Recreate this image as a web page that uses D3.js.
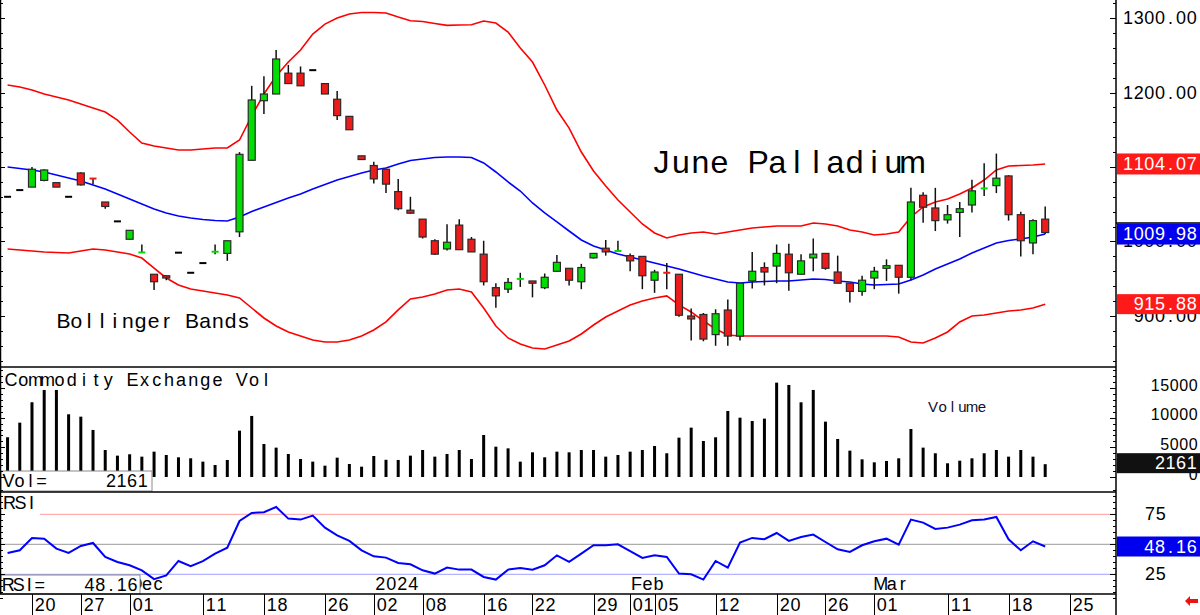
<!DOCTYPE html>
<html>
<head>
<meta charset="utf-8">
<script src="https://cdn.jsdelivr.net/npm/d3@7"></script>
<style>
  body { margin: 0; background: #fff; }
  svg { display: block; }
</style>
</head>
<body>
<div id="container"></div>
<script>
// ---- data ----
const dates = [
  "2023-11-16","2023-11-17","2023-11-20","2023-11-21","2023-11-22","2023-11-24","2023-11-27","2023-11-28","2023-11-29","2023-11-30",
  "2023-12-01","2023-12-04","2023-12-05","2023-12-06","2023-12-07","2023-12-08","2023-12-11","2023-12-12","2023-12-13","2023-12-14",
  "2023-12-15","2023-12-18","2023-12-19","2023-12-20","2023-12-21","2023-12-22","2023-12-26","2023-12-27","2023-12-28","2023-12-29",
  "2024-01-02","2024-01-03","2024-01-04","2024-01-05","2024-01-08","2024-01-09","2024-01-10","2024-01-11","2024-01-12","2024-01-16",
  "2024-01-17","2024-01-18","2024-01-19","2024-01-22","2024-01-23","2024-01-24","2024-01-25","2024-01-26","2024-01-29","2024-01-30",
  "2024-01-31","2024-02-01","2024-02-02","2024-02-05","2024-02-06","2024-02-07","2024-02-08","2024-02-09","2024-02-12","2024-02-13",
  "2024-02-14","2024-02-15","2024-02-16","2024-02-20","2024-02-21","2024-02-22","2024-02-23","2024-02-26","2024-02-27","2024-02-28",
  "2024-02-29","2024-03-01","2024-03-04","2024-03-05","2024-03-06","2024-03-07","2024-03-08","2024-03-11","2024-03-12","2024-03-13",
  "2024-03-14","2024-03-15","2024-03-18","2024-03-19","2024-03-20","2024-03-21",
  // empty sessions on the right of the axis
  "2024-03-22","2024-03-25","2024-03-26","2024-03-27","2024-03-28"
];

const open = [1060,1069,1073,1082,1079,1060,1092,1085,1053,1027,
  1003,985,956,954,985,958,971,986,984,1013,
  1109,1189,1198,1226,1226,1230,1212,1191,1168,1115,
  1102,1097,1067,1042,1030,1001,990,1022,1003,983,
  938,936,949.5,947,938,960,964,946,978,991,
  987,981,980,948,958.5,956,900,902,875,908,
  873,947,965,967,983,956,978,984,959,944,
  933,951,964,968,952,1062,1045,1029,1039,1049,
  1071,1075,1088,1036,998,1030];
const high = [1060,1069,1100,1097,1079,1060,1093,1085,1053,1027,
  1015,996,956,955,985,958,971,996,1001,1120,
  1209,1222,1257,1237,1235,1230,1212,1202,1168,1115,
  1107,1097,1084,1060,1030,1003,1023,1030,1006,1001,
  944,951,958,947,957,982,964,970,984,1002,
  1001,984,980,962,971,956,910,904,909,922,
  944,986,972,996,997,983,1004,984,981,944,
  954,966,976,968,1072,1066,1072,1049,1053,1083,
  1105,1118,1089,1040,1030,1047];
const low = [1060,1069,1073,1081,1073,1060,1075,1077,1044,1027,
  1003,985,935,948,985,958,971,983,974,1006,
  1109,1171,1198,1212,1209,1230,1198,1163,1150,1110,
  1078,1065,1042,1037,1004,982,988,989,986,941,
  911,931,939,925,936,959,941,936,977,981,
  987,960,936,931,936,899,867,866,860,860,
  867,937,941,944,934,956,960,962,944,918,
  927,936,947,930,948,1025,1014,1024,1006,1039,
  1061,1065,1028,980,983,1010];
const close = [1060,1069,1097,1096,1073,1060,1076,1084,1047,1027,
  1015,985.5,946,951,985,958,971,986.5,1001,1117,
  1190,1198,1245,1212,1209,1230,1198,1169,1150,1110,
  1084,1077,1044,1038,1006,983,999,989,986,946,
  927,945,950,944,952,972,948,965,984,986,
  987.5,974,954,959,957.5,901,896,869,903,873,
  944,960,959,984,958,974,983,964,944,933,
  948,960,967.5,952,1053,1046,1028,1036,1044,1068,
  1071.5,1085,1036,1001,1028,1012];

const upperBand = [1210.1,1207.4,1203.4,1198,1194,1190,1184.6,1179.2,1173.8,1163,
  1147,1132.2,1128.2,1125.5,1122.8,1122.8,1124.2,1125.5,1125.5,1136.2,
  1168.5,1198,1222.1,1240.9,1257,1278.5,1291.9,1300,1305.4,1307.4,
  1307.4,1306.7,1301.3,1296.4,1295.3,1292.6,1290.2,1290.6,1291,1296,
  1293.3,1281.2,1259.7,1240.9,1210.1,1176.5,1152.3,1120.1,1094.6,1074.5,
  1055.7,1039.6,1023.5,1011.4,1004.7,1008.7,1011.4,1012.7,1010,1012.7,
  1015.4,1018.1,1019.5,1020.8,1020.8,1020.8,1024.8,1023.5,1020.8,1015.4,
  1012.7,1008.7,1010,1012.7,1032.9,1046.3,1053,1057,1063.8,1071.8,
  1082.5,1096,1101.3,1102,1102.7,1104.07];
const midBand = [1100,1098,1096,1093.3,1089.3,1085.2,1081.2,1075.8,1070.5,1063.8,
  1057,1050.3,1043.6,1038.3,1034.2,1031.5,1029.5,1028.2,1027.5,1032.9,
  1040.3,1046.3,1052.3,1058.4,1063.8,1070.5,1076.5,1082.5,1087.2,1091.9,
  1096,1098.7,1104,1108.7,1110.7,1112.8,1113.4,1113.4,1112.8,1105.4,
  1093.3,1079.9,1067.8,1051.7,1038.3,1026.2,1014.1,1002,994,988.6,
  983.2,979.2,975.2,971.1,967.1,963.1,958.4,953.7,949.7,945.6,
  944.3,945.6,946.3,947,947,948.3,949.7,949,947,945.6,
  942.9,941.6,942.3,942.9,948.3,955,963.1,969.8,976.5,984.6,
  991.3,998,1001.3,1003.4,1006,1009.98];
const lowerBand = [989.9,988.6,987.2,985.9,985.2,984.6,987.2,989.9,988.6,985.9,
  983.2,977.8,964.4,951,941.6,936.2,933.6,930.9,928.2,924.2,
  910.7,897.3,886.6,878.5,873.2,867.8,865.1,865.1,867.8,873.2,
  881.2,892,908.1,922.9,925.5,929.6,934.9,936.2,932.2,910.7,
  886.6,870.5,862.4,857,855.7,861.1,866.4,875.8,887.9,898.6,
  906.7,914.8,920.2,924.2,926.9,914.8,905.4,893.3,882.5,874.5,
  873.2,873.2,873.2,873.2,873.2,873.2,873.2,873.2,873.2,873.2,
  873.2,873.2,873.2,871.8,865.1,863.8,870.5,878.5,892,900,
  901.3,904,906.7,908.1,910.7,915.88];

const volume = [6700,9160,12600,14670,14670,10570,10170,7930,4550,3600,
  3830,3430,4270,3710,3320,3150,2590,2020,2870,7810,
  10290,5560,4950,3880,3030,2590,1910,3260,2190,1740,
  3540,2900,2870,3600,4550,3430,3880,4550,3030,7080,
  5110,4830,2590,4160,3320,4270,4160,4550,4550,3430,
  3710,4270,4550,5230,4000,6630,8320,6070,6690,11130,
  10000,9440,9840,15900,15510,12590,14670,9330,6410,4440,
  2980,2470,2700,3150,8090,4950,4000,2310,2750,3150,
  4000,4550,3430,4550,3430,2161];

const rsi = [42.8,45,55.3,54.7,46.4,42.8,48.6,51.1,39.4,35.3,
  32.5,28.3,21,24,36.1,31.7,36,42.2,47.2,69.4,
  76.1,76.7,81.1,71.4,70.6,73.9,63.9,57.5,52.8,45,
  40,38.9,34.4,33.3,28.3,25.6,30.6,28.9,28.9,22.8,
  20.6,28.9,30.3,28.9,32.5,40.8,35.3,42.2,49.2,49.2,
  50,44.4,38.6,40.8,39.4,25.6,25,20.6,36.1,30.6,
  51.4,55.3,54.2,59.4,52.8,56.1,58.1,51.9,45.8,43.6,
  49.2,52.5,54.7,49.7,70.6,68.1,62.8,63.9,66.4,70,
  70.6,72.8,54.2,45,52.5,48.16];

const tickDates = ["2023-11-20","2023-11-27","2023-12-01","2023-12-11","2023-12-18","2023-12-26",
  "2024-01-02","2024-01-08","2024-01-16","2024-01-22","2024-01-29","2024-02-01","2024-02-05",
  "2024-02-12","2024-02-20","2024-02-26","2024-03-01","2024-03-11","2024-03-18","2024-03-25"];
const monthDates = ["2023-12-01","2024-01-02","2024-02-01","2024-03-01"];
const monthLabels = ["Dec","2024","Feb","Mar"];

const priceTicks = [900, 1000, 1100, 1200, 1300];
const volTicks = [0, 5000, 10000, 15000];
const rsiTicks = [25, 75];

// ---- layout ----
const W = 1200, H = 615, R = 1116;
const pBot = 367, vBot = 492, rBot = 594;
const FONT = "'Liberation Sans', Arial, sans-serif";
const GREEN = "#00dd00", RED = "#ee1b1b";

const svg = d3.select("#container").append("svg")
  .attr("width", W).attr("height", H)
  .style("font-family", FONT);

const x = d3.scaleLinear().domain([-0.62, 90.8]).range([0, R]);
const yP = d3.scaleLinear().domain([831.5, 1324.2]).range([pBot, 0]);
const yV = d3.scaleLinear().domain([0, 15000]).range([477, 388]);
const yR = d3.scaleLinear().domain([25, 75]).range([574.3, 514.3]);

const defs = svg.append("defs");
[["clipP", 0, pBot], ["clipV", pBot, vBot], ["clipR", vBot, rBot]].forEach(([id, t, b]) => {
  defs.append("clipPath").attr("id", id).append("rect")
    .attr("x", 0).attr("y", t).attr("width", R).attr("height", b - t);
});

// monospaced-looking text: every glyph centred in its own cell
function mono(g, str, x0, yc, adv, size, fill) {
  const chars = [...str];
  return g.append("text")
    .attr("x", chars.map((c, i) => (x0 + adv * (i + 0.5)).toFixed(1)).join(" "))
    .attr("y", yc)
    .attr("text-anchor", "middle")
    .attr("dominant-baseline", "central")
    .attr("font-size", size)
    .attr("fill", fill || "#000")
    .text(str);
}
function monoRight(g, str, xr, yc, adv, size, fill) {
  return mono(g, str, xr - adv * [...str].length, yc, adv, size, fill);
}

// ---- price panel ----
const price = svg.append("g").attr("clip-path", "url(#clipP)");
const bandLine = d3.line().x((d, i) => x(i)).y(d => yP(d));

price.append("path").datum(upperBand).attr("d", bandLine)
  .attr("fill", "none").attr("stroke", "#ff0000").attr("stroke-width", 1.6);
price.append("path").datum(lowerBand).attr("d", bandLine)
  .attr("fill", "none").attr("stroke", "#ff0000").attr("stroke-width", 1.6);
price.append("path").datum(midBand).attr("d", bandLine)
  .attr("fill", "none").attr("stroke", "#0000ff").attr("stroke-width", 1.6);

const candles = open.map((o, i) => ({ i, o, h: high[i], l: low[i], c: close[i] }));

price.selectAll(".wick").data(candles.filter(d => d.h > d.l)).enter()
  .append("line")
  .attr("x1", d => x(d.i)).attr("x2", d => x(d.i))
  .attr("y1", d => yP(d.h)).attr("y2", d => yP(d.l))
  .attr("stroke", "#111").attr("stroke-width", 1.5);

const thin = d => Math.abs(yP(d.o) - yP(d.c)) < 2.2;
const colorOf = d => d.c > d.o ? GREEN : d.c < d.o ? RED : "#000";

price.selectAll(".dash").data(candles.filter(thin)).enter()
  .append("rect")
  .attr("x", d => x(d.i) - 3.5).attr("width", 7)
  .attr("y", d => yP((d.o + d.c) / 2) - 1).attr("height", 2)
  .attr("fill", colorOf);

price.selectAll(".body").data(candles.filter(d => !thin(d))).enter()
  .append("rect")
  .attr("x", d => x(d.i) - 3.5).attr("width", 7)
  .attr("y", d => yP(Math.max(d.o, d.c)))
  .attr("height", d => yP(Math.min(d.o, d.c)) - yP(Math.max(d.o, d.c)))
  .attr("fill", colorOf)
  .attr("stroke", "#2a2a2a").attr("stroke-width", 1.2);

mono(svg, "June Palladium", 652, 162, 19.3, 32);
mono(svg, "Bollinger Bands", 57, 320, 12.87, 21);

// ---- volume panel ----
const vol = svg.append("g").attr("clip-path", "url(#clipV)");
vol.selectAll("rect").data(volume).enter().append("rect")
  .attr("x", (d, i) => x(i) - 1.5).attr("width", 3)
  .attr("y", d => yV(d)).attr("height", d => yV(0) - yV(d))
  .attr("fill", "#000");

mono(svg, "Commodity Exchange Vol", 5, 380, 12.14, 18);
mono(svg, "Volume", 928, 406, 9.8, 15, "#101030");

// ---- RSI panel ----
const rs = svg.append("g").attr("clip-path", "url(#clipR)");
rs.append("line").attr("x1", 40).attr("x2", R).attr("y1", yR(75)).attr("y2", yR(75))
  .attr("stroke", "#ff9a9a").attr("stroke-width", 1);
rs.append("line").attr("x1", 0).attr("x2", R).attr("y1", yR(50)).attr("y2", yR(50))
  .attr("stroke", "#9a9a9a").attr("stroke-width", 1);
rs.append("line").attr("x1", 0).attr("x2", R).attr("y1", yR(25)).attr("y2", yR(25))
  .attr("stroke", "#a0a0ff").attr("stroke-width", 1);
rs.append("path").datum(rsi)
  .attr("d", d3.line().x((d, i) => x(i)).y(d => yR(d)))
  .attr("fill", "none").attr("stroke", "#0000ff").attr("stroke-width", 2);

mono(svg, "RSI", 4, 503, 11, 18);

monthDates.forEach((d, k) => {
  mono(svg, monthLabels[k], x(dates.indexOf(d)) + 1, 584, 11, 18);
});

// value boxes bottom-left
svg.append("rect").attr("x", 1).attr("y", 471).attr("width", 151).attr("height", 20)
  .attr("fill", "#fff").attr("stroke", "#8a8a8a").attr("stroke-width", 1);
mono(svg, "Vol=", 3, 481, 11, 18);
monoRight(svg, String(volume[volume.length - 1]), 148, 481, 10.6, 18);

svg.append("rect").attr("x", 1).attr("y", 575).attr("width", 139).attr("height", 19)
  .attr("fill", "#fff").attr("stroke", "#8a8a8a").attr("stroke-width", 1);
mono(svg, "RSI=", 3, 584.5, 10.5, 18);
monoRight(svg, d3.format(".2f")(rsi[rsi.length - 1]), 138, 584.5, 10.8, 18);

// ---- frame ----
const frame = svg.append("g").attr("stroke", "#000");
frame.append("line").attr("x1", 0.5).attr("x2", 0.5).attr("y1", 0).attr("y2", rBot).attr("stroke-width", 1.5);
frame.append("line").attr("x1", R).attr("x2", R).attr("y1", 0).attr("y2", H).attr("stroke-width", 1.5);
[pBot, vBot, rBot].forEach(yy => {
  frame.append("line").attr("x1", 0).attr("x2", R).attr("y1", yy).attr("y2", yy).attr("stroke-width", 1.5);
});

// ---- right axes ----
const axisG = svg.append("g").attr("stroke", "#000").attr("stroke-width", 1);
function ticksOn(scale, lo, hi, step, majorStep) {
  d3.range(lo, hi + 0.001, step).forEach(v => {
    const yy = Math.round(scale(v)) + 0.5;
    const major = Math.abs(v % majorStep) < 1e-6;
    axisG.append("line").attr("x1", R - (major ? 6 : 3)).attr("x2", R).attr("y1", yy).attr("y2", yy);
    axisG.append("line").attr("x1", 0).attr("x2", major ? 5 : 3).attr("y1", yy).attr("y2", yy);
  });
}
ticksOn(yP, 840, 1320, 20, 100);
ticksOn(yV, 0, 18000, 1000, 5000);
ticksOn(yR, 5, 95, 5, 25);

priceTicks.forEach(v => monoRight(svg, d3.format(".2f")(v), 1197, yP(v), 10.6, 18));
volTicks.forEach(v => monoRight(svg, String(v), 1198, yV(v) - 3, 9.5, 16));
rsiTicks.forEach(v => monoRight(svg, String(v), 1166, yR(v), 10.6, 18));

// current value boxes
function valueBox(yc, fill, txt, h) {
  svg.append("rect").attr("x", R + 1).attr("y", yc - h / 2).attr("width", W - R - 1).attr("height", h).attr("fill", fill);
  monoRight(svg, txt, 1197, yc, 10.6, 18, "#fff");
}
valueBox(yP(upperBand[85]), "#ff1a1a", d3.format(".2f")(upperBand[85]), 21);
svg.append("line").attr("x1", R).attr("x2", W).attr("y1", yP(midBand[85]) - 11).attr("y2", yP(midBand[85]) - 11)
  .attr("stroke", "#000").attr("stroke-width", 1.5);
valueBox(yP(midBand[85]), "#0000ee", d3.format(".2f")(midBand[85]), 21);
valueBox(yP(lowerBand[85]), "#ff1a1a", d3.format(".2f")(lowerBand[85]), 20);
valueBox(yV(volume[85]) - 1, "#111", String(volume[85]), 20);
valueBox(yR(rsi[85]), "#0000ee", d3.format(".2f")(rsi[85]), 20);

// ---- date row ----
tickDates.forEach(d => {
  const xx = Math.round(x(dates.indexOf(d))) + 0.5;
  svg.append("line").attr("x1", xx).attr("x2", xx).attr("y1", rBot).attr("y2", H)
    .attr("stroke", "#000").attr("stroke-width", 1);
  mono(svg, d.slice(8), xx + 2, 605, 10.6, 18);
});

// little red arrow, bottom right
svg.append("path")
  .attr("d", "M1185,601 L1190,596 L1190,599 L1198,599 L1198,603 L1190,603 L1190,606 Z")
  .attr("fill", "#ee1111");
</script>
</body>
</html>
